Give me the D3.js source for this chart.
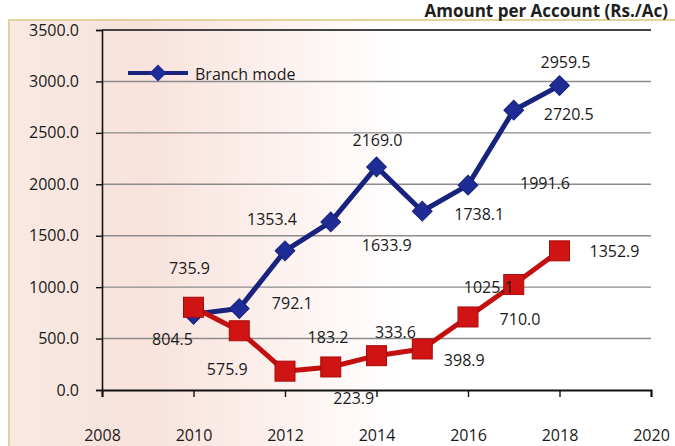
<!DOCTYPE html>
<html>
<head>
<meta charset="utf-8">
<script src="https://cdn.jsdelivr.net/npm/d3@7"></script>
<style>
  html, body { margin: 0; padding: 0; background: #fff; overflow: hidden; }
  text { font-family: "Open Sans", "Noto Sans", sans-serif; }
</style>
</head>
<body>
<script>
// values
const years = [2010, 2011, 2012, 2013, 2014, 2015, 2016, 2017, 2018];
const branchMode = [735.9, 792.1, 1353.4, 1633.9, 2169.0, 1738.1, 1991.6, 2720.5, 2959.5];
const otherMode = [804.5, 575.9, 183.2, 223.9, 333.6, 398.9, 710.0, 1025.1, 1352.9];
const yTicks = [0, 500, 1000, 1500, 2000, 2500, 3000, 3500];
const xTicks = [2008, 2010, 2012, 2014, 2016, 2018, 2020];

// where each data label sits, relative to its point
const branchLabelOff = [[-4, -46], [53, -6], [-13, -32], [56, 23], [1, -27], [57, 3], [77, -2], [55, 4], [6, -24]];
const otherLabelOff = [[-21, 32], [-12, 38], [43, -34], [23, 31], [19, -24], [42, 11], [52, 2], [-25, 2], [55, 0]];

const w = 675, h = 446;

const svg = d3.select("body").append("svg")
  .attr("width", w)
  .attr("height", h);

const defs = svg.append("defs");
const grad = defs.append("linearGradient").attr("id", "bg");
grad.append("stop").attr("offset", "0%").attr("stop-color", "#f8e9e2");
grad.append("stop").attr("offset", "20%").attr("stop-color", "#f8e2dc");
grad.append("stop").attr("offset", "40%").attr("stop-color", "#fcf1ee");
grad.append("stop").attr("offset", "58%").attr("stop-color", "#ffffff");
grad.append("stop").attr("offset", "100%").attr("stop-color", "#ffffff");

svg.append("rect")
  .attr("x", 9).attr("y", 20)
  .attr("width", w).attr("height", h)
  .attr("fill", "url(#bg)")
  .attr("stroke", "#e2d29c")
  .attr("stroke-width", 2);

// title
svg.append("text")
  .attr("x", 668).attr("y", 17)
  .attr("text-anchor", "end")
  .style("font-size", "17px")
  .style("font-weight", "bold")
  .attr("fill", "#1e1e1e")
  .text("Amount per Account (Rs./Ac)");

const x = d3.scaleLinear().domain([2008, 2020]).range([102, 651]);
const y = d3.scaleLinear().domain([0, 3500]).range([390, 30]);

// gridlines
svg.append("g")
  .selectAll("line")
  .data(yTicks.filter(d => d > 0))
  .join("line")
  .attr("x1", x(2008)).attr("x2", x(2020))
  .attr("y1", d => y(d)).attr("y2", d => y(d))
  .attr("stroke", d => d === 3500 ? "#444" : "#8c8c8c")
  .attr("stroke-width", d => d === 3500 ? 2 : 1.4);

// y axis
const yAxis = svg.append("g")
  .attr("transform", `translate(${x(2008)},0)`)
  .call(d3.axisLeft(y).tickValues(yTicks).tickFormat(d3.format(".1f")).tickSize(6).tickPadding(17));
yAxis.select(".domain").attr("stroke", "#111").attr("stroke-width", 1.6);
yAxis.selectAll(".tick line").attr("stroke", "#111").attr("stroke-width", 1.4);
yAxis.selectAll(".tick text")
  .style("font-size", "16px")
  .attr("fill", "#1a1a1a");

// x axis
const xAxis = svg.append("g")
  .attr("transform", `translate(0,${y(0)})`)
  .call(d3.axisBottom(x).tickValues(xTicks).tickFormat(d3.format("d")).tickSizeOuter(0).tickSize(7).tickPadding(33));
xAxis.select(".domain").attr("stroke", "#111").attr("stroke-width", 2);
xAxis.selectAll(".tick line").attr("stroke", "#111").attr("stroke-width", 1.4);
xAxis.selectAll(".tick text")
  .style("font-size", "16px")
  .attr("fill", "#1a1a1a");

const line = d3.line()
  .x((d, i) => x(years[i]))
  .y(d => y(d));

// branch mode series
const blue = "#18237e";
svg.append("path")
  .datum(branchMode)
  .attr("d", line)
  .attr("fill", "none")
  .attr("stroke", blue)
  .attr("stroke-width", 5)
  .attr("stroke-linejoin", "round");

svg.append("g")
  .selectAll("rect")
  .data(branchMode)
  .join("rect")
  .attr("x", -7).attr("y", -7)
  .attr("width", 14).attr("height", 14)
  .attr("transform", (d, i) => `translate(${x(years[i])},${y(d)}) rotate(45)`)
  .attr("fill", "#1f2c96")
  .attr("stroke", blue)
  .attr("stroke-width", 1);

// second series
const red = "#d01414";
svg.append("path")
  .datum(otherMode)
  .attr("d", line)
  .attr("fill", "none")
  .attr("stroke", "#c40f0f")
  .attr("stroke-width", 5)
  .attr("stroke-linejoin", "round");

svg.append("g")
  .selectAll("rect")
  .data(otherMode)
  .join("rect")
  .attr("x", (d, i) => x(years[i]) - 10)
  .attr("y", d => y(d) - 10)
  .attr("width", 20).attr("height", 20)
  .attr("fill", red)
  .attr("stroke", "#a80a0a")
  .attr("stroke-width", 1);

// data labels
const labelFmt = d3.format(".1f");
function addLabels(values, offs) {
  svg.append("g")
    .selectAll("text")
    .data(values)
    .join("text")
    .attr("x", (d, i) => x(years[i]) + offs[i][0])
    .attr("y", (d, i) => y(d) + offs[i][1])
    .attr("text-anchor", "middle")
    .attr("dominant-baseline", "central")
    .style("font-size", "16px")
    .attr("fill", "#1a1a1a")
    .text(d => labelFmt(d));
}
addLabels(branchMode, branchLabelOff);
addLabels(otherMode, otherLabelOff);

// legend
const legend = svg.append("g").attr("transform", "translate(128,73)");
legend.append("line")
  .attr("x1", 0).attr("x2", 60)
  .attr("stroke", blue).attr("stroke-width", 4);
legend.append("rect")
  .attr("x", -6).attr("y", -6).attr("width", 12).attr("height", 12)
  .attr("transform", "translate(30,0) rotate(45)")
  .attr("fill", "#1f2c96");
legend.append("text")
  .attr("x", 67).attr("y", 1)
  .attr("dominant-baseline", "central")
  .style("font-size", "16px")
  .attr("fill", "#1a1a1a")
  .text("Branch mode");
</script>
</body>
</html>
